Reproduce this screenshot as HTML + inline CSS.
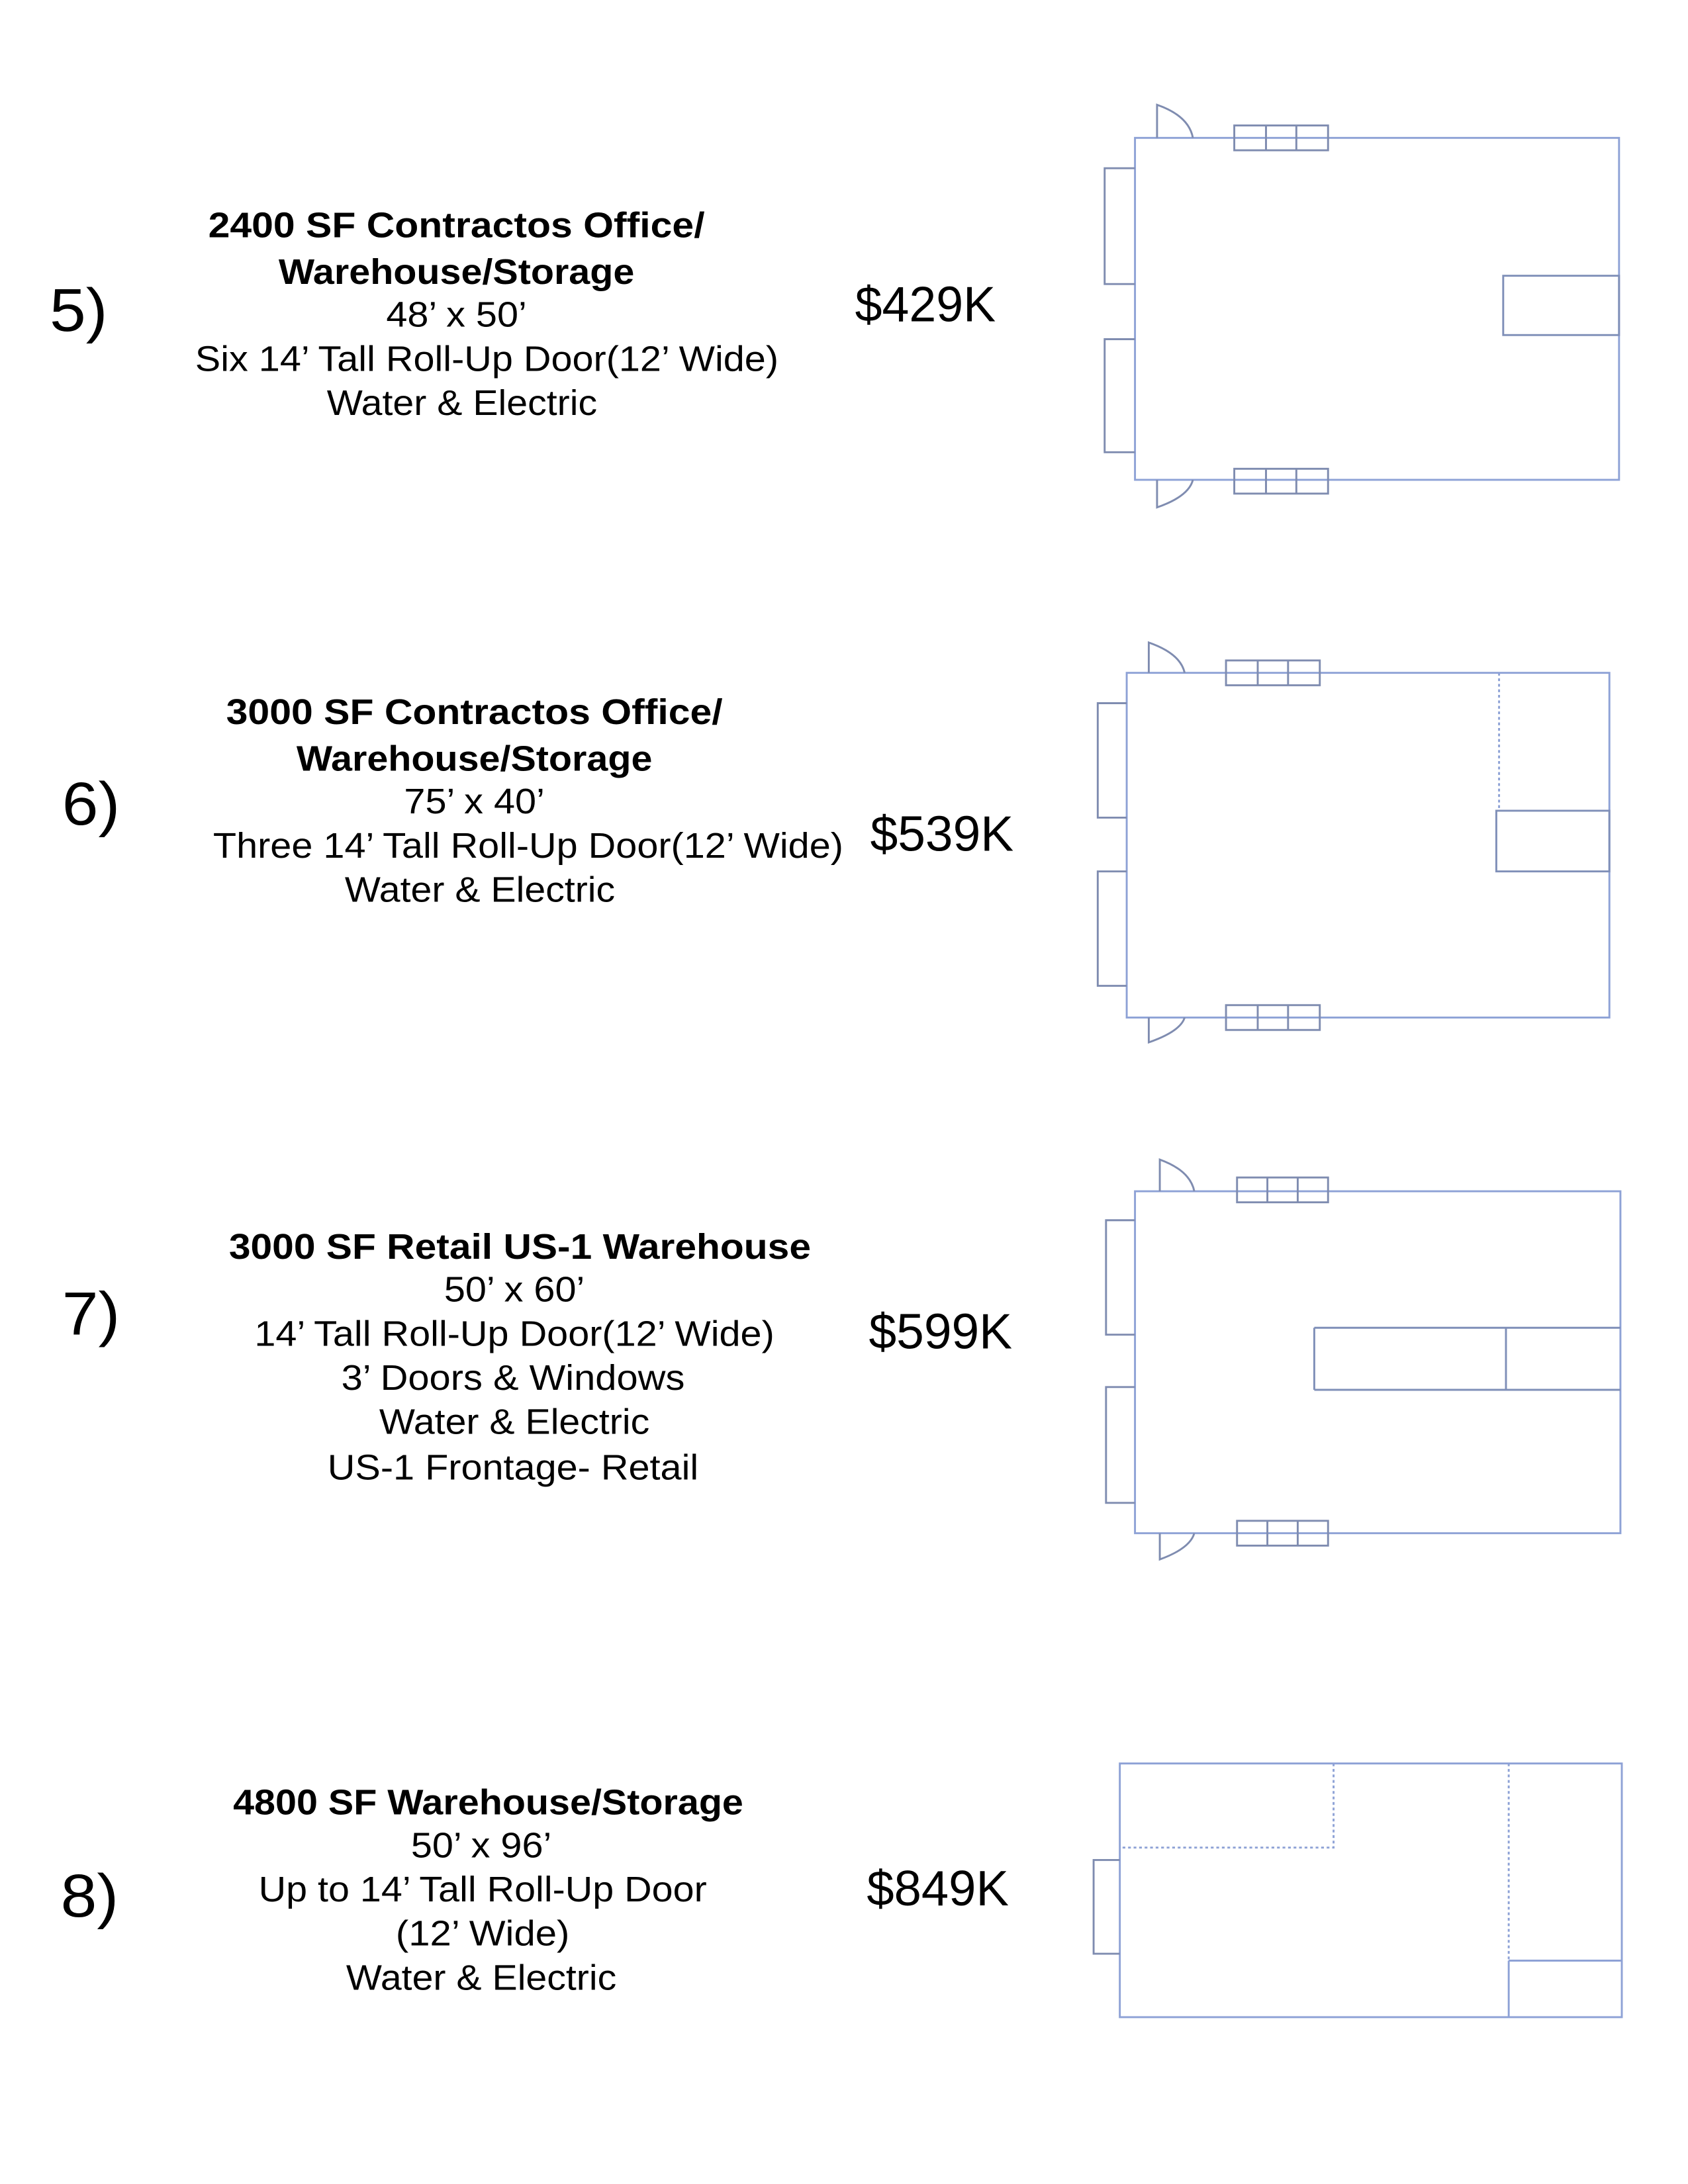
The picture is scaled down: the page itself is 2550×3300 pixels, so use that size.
<!DOCTYPE html>
<html><head><meta charset="utf-8"><style>html,body{margin:0;padding:0;background:#fff}svg{display:block}</style></head>
<body>
<svg width="2550" height="3300" viewBox="0 0 1224 1584" xmlns="http://www.w3.org/2000/svg">
<g font-family="Liberation Sans, Arial, sans-serif" fill="#000" text-anchor="middle">
<!-- 5 -->
<text x="57" y="240" font-size="44" textLength="42" lengthAdjust="spacingAndGlyphs">5)</text>
<text x="331" y="172" font-size="26" font-weight="bold" textLength="360" lengthAdjust="spacingAndGlyphs">2400 SF  Contractos Office/</text>
<text x="331" y="206" font-size="26" font-weight="bold" textLength="258" lengthAdjust="spacingAndGlyphs">Warehouse/Storage</text>
<text x="331" y="237" font-size="26" textLength="102" lengthAdjust="spacingAndGlyphs">48’ x 50’</text>
<text x="353" y="269" font-size="26" textLength="423" lengthAdjust="spacingAndGlyphs">Six 14’ Tall Roll-Up Door(12’ Wide)</text>
<text x="335" y="301" font-size="26" textLength="196" lengthAdjust="spacingAndGlyphs">Water &amp; Electric</text>
<text x="671" y="233" font-size="36" textLength="102" lengthAdjust="spacingAndGlyphs">$429K</text>
<!-- 6 -->
<text x="66" y="598" font-size="44" textLength="42" lengthAdjust="spacingAndGlyphs">6)</text>
<text x="344" y="525" font-size="26" font-weight="bold" textLength="360" lengthAdjust="spacingAndGlyphs">3000 SF  Contractos Office/</text>
<text x="344" y="559" font-size="26" font-weight="bold" textLength="258" lengthAdjust="spacingAndGlyphs">Warehouse/Storage</text>
<text x="344" y="590" font-size="26" textLength="102" lengthAdjust="spacingAndGlyphs">75’ x 40’</text>
<text x="383" y="622" font-size="26" textLength="457" lengthAdjust="spacingAndGlyphs">Three 14’ Tall Roll-Up Door(12’ Wide)</text>
<text x="348" y="654" font-size="26" textLength="196" lengthAdjust="spacingAndGlyphs">Water &amp; Electric</text>
<text x="683" y="617" font-size="36" textLength="104" lengthAdjust="spacingAndGlyphs">$539K</text>
<!-- 7 -->
<text x="66" y="968" font-size="44" textLength="42" lengthAdjust="spacingAndGlyphs">7)</text>
<text x="377" y="913" font-size="26" font-weight="bold" textLength="422" lengthAdjust="spacingAndGlyphs">3000 SF  Retail US-1 Warehouse</text>
<text x="373" y="944" font-size="26" textLength="102" lengthAdjust="spacingAndGlyphs">50’ x 60’</text>
<text x="373" y="976" font-size="26" textLength="377" lengthAdjust="spacingAndGlyphs">14’ Tall Roll-Up Door(12’ Wide)</text>
<text x="372" y="1008" font-size="26" textLength="249" lengthAdjust="spacingAndGlyphs">3’ Doors &amp; Windows</text>
<text x="373" y="1040" font-size="26" textLength="196" lengthAdjust="spacingAndGlyphs">Water &amp; Electric</text>
<text x="372" y="1073" font-size="26" textLength="269" lengthAdjust="spacingAndGlyphs">US-1 Frontage- Retail</text>
<text x="682" y="978" font-size="36" textLength="104" lengthAdjust="spacingAndGlyphs">$599K</text>
<!-- 8 -->
<text x="65" y="1390" font-size="44" textLength="42" lengthAdjust="spacingAndGlyphs">8)</text>
<text x="354" y="1316" font-size="26" font-weight="bold" textLength="370" lengthAdjust="spacingAndGlyphs">4800 SF Warehouse/Storage</text>
<text x="349" y="1347" font-size="26" textLength="102" lengthAdjust="spacingAndGlyphs">50’ x 96’</text>
<text x="350" y="1379" font-size="26" textLength="325" lengthAdjust="spacingAndGlyphs">Up to 14’ Tall Roll-Up Door</text>
<text x="350" y="1411" font-size="26" textLength="126" lengthAdjust="spacingAndGlyphs">(12’ Wide)</text>
<text x="349" y="1443" font-size="26" textLength="196" lengthAdjust="spacingAndGlyphs">Water &amp; Electric</text>
<text x="680" y="1382" font-size="36" textLength="103" lengthAdjust="spacingAndGlyphs">$849K</text>
</g>
<g fill="none" stroke="#8ea2d6" stroke-width="1.4">
<!-- plan 5 -->
<rect x="823" y="100" width="351" height="248"/>
<rect x="1090" y="200" width="84" height="43" stroke="#7f8fb8"/>
<g stroke="#7f8cb0">
<path d="M823 122H801V206H823M823 246H801V328H823"/>
<rect x="895" y="91" width="68" height="18"/><path d="M918 91V109M940 91V109"/>
<rect x="895" y="340" width="68" height="18"/><path d="M918 340V358M940 340V358"/>
<path d="M839 100V76Q862 84 865 100M839 348V368Q862 360 865 348"/>
</g>
<!-- plan 6 -->
<rect x="817" y="488" width="350" height="250"/>
<rect x="1085" y="588" width="82" height="44" stroke="#7f8fb8"/>
<path d="M1087 488V588" stroke-dasharray="2 2"/>
<g stroke="#7f8cb0">
<path d="M817 510H796V593H817M817 632H796V715H817"/>
<rect x="889" y="479" width="68" height="18"/><path d="M912 479V497M934 479V497"/>
<rect x="889" y="729" width="68" height="18"/><path d="M912 729V747M934 729V747"/>
<path d="M833 488V466Q856 474 859 488M833 738V756Q856 748 859 738"/>
</g>
<!-- plan 7 -->
<rect x="823" y="864" width="352" height="248"/>
<path d="M953 963H1175M953 1008H1175M953 963V1008M1092 963V1008" stroke="#7f8fb8"/>
<g stroke="#7f8cb0">
<path d="M823 885H802V968H823M823 1006H802V1090H823"/>
<rect x="897" y="854" width="66" height="18"/><path d="M919 854V872M941 854V872"/>
<rect x="897" y="1103" width="66" height="18"/><path d="M919 1103V1121M941 1103V1121"/>
<path d="M841 864V841Q863 849 866 864M841 1112V1131Q863 1123 866 1112"/>
</g>
<!-- plan 8 -->
<rect x="812" y="1279" width="364" height="184"/>
<path d="M967 1279V1340H812M1094 1279V1422" stroke-dasharray="2 2"/>
<path d="M1094 1422V1463M1094 1422H1176"/>
<path d="M812 1349H793V1417H812" stroke="#7f8cb0"/>
</g>
</svg>
</body></html>
